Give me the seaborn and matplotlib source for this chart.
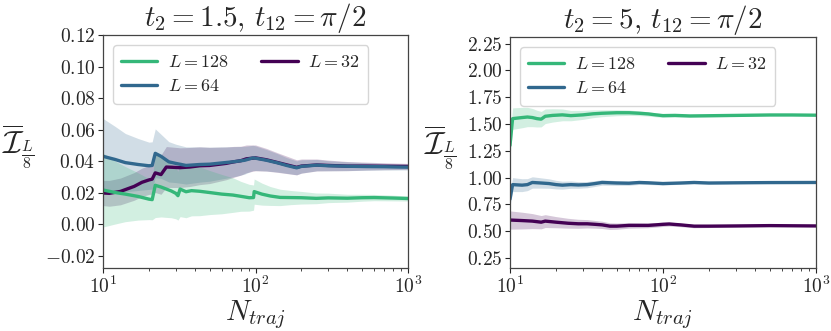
import numpy as np
import matplotlib
matplotlib.use('Agg')
import matplotlib.pyplot as plt
import seaborn as sns
from matplotlib.ticker import FuncFormatter, LogLocator, MultipleLocator

# --- left panel: t2 = 1.5 ---
n_l128 = [10, 12, 14, 17, 20, 21, 22, 24, 26, 28, 30, 31, 32, 35, 38, 43, 50, 60, 71, 80,
          91, 97, 98, 110, 125, 145, 170, 200, 250, 300, 400, 500, 600, 800, 1000]
m_l128 = [0.0216, 0.0200, 0.0190, 0.0175, 0.0158, 0.0155, 0.0246, 0.0235, 0.0222, 0.0210,
          0.0195, 0.0180, 0.0222, 0.0205, 0.0212, 0.0208, 0.0200, 0.0190, 0.0184, 0.0176,
          0.0167, 0.0168, 0.0206, 0.0190, 0.0178, 0.0169, 0.0168, 0.0167, 0.0163, 0.0166,
          0.0164, 0.0167, 0.0168, 0.0165, 0.0162]
e_l128 = [0.0235, 0.0200, 0.0175, 0.0150, 0.0130, 0.0128, 0.0205, 0.0190, 0.0180, 0.0170,
          0.0162, 0.0155, 0.0175, 0.0165, 0.0160, 0.0155, 0.0140, 0.0125, 0.0110, 0.0095,
          0.0085, 0.0080, 0.0080, 0.0070, 0.0060, 0.0052, 0.0045, 0.0040, 0.0034, 0.0030,
          0.0025, 0.0022, 0.0020, 0.0018, 0.0016]

n_l64 = [10, 12, 14, 17, 20, 21, 22, 24, 27, 30, 35, 43, 50, 60, 71, 85, 96, 100, 118,
         140, 160, 186, 200, 252, 300, 400, 535, 700, 850, 1000]
m_l64 = [0.0430, 0.0410, 0.0390, 0.0378, 0.0370, 0.0372, 0.0449, 0.0430, 0.0395, 0.0385,
         0.0372, 0.0378, 0.0380, 0.0388, 0.0395, 0.0405, 0.0420, 0.0418, 0.0405, 0.0388,
         0.0372, 0.0357, 0.0366, 0.0374, 0.0370, 0.0367, 0.0365, 0.0364, 0.0362, 0.0361]
e_l64 = [0.0240, 0.0210, 0.0185, 0.0165, 0.0150, 0.0150, 0.0155, 0.0140, 0.0128, 0.0122,
         0.0118, 0.0112, 0.0108, 0.0102, 0.0096, 0.0088, 0.0080, 0.0078, 0.0068, 0.0058,
         0.0050, 0.0044, 0.0042, 0.0036, 0.0032, 0.0028, 0.0024, 0.0021, 0.0019, 0.0018]

n_l32 = [10, 11, 13, 16, 18, 20, 21, 22, 24, 26, 29, 32, 37, 43, 50, 56, 64, 72, 80,
         87, 95, 100, 118, 140, 186, 200, 252, 300, 400, 535, 700, 1000]
m_l32 = [0.0197, 0.0195, 0.0207, 0.0239, 0.0265, 0.0280, 0.0285, 0.0325, 0.0314, 0.0362,
         0.0360, 0.0358, 0.0362, 0.0370, 0.0372, 0.0378, 0.0385, 0.0395, 0.0402, 0.0414,
         0.0418, 0.0420, 0.0408, 0.0390, 0.0360, 0.0368, 0.0375, 0.0372, 0.0368, 0.0368,
         0.0367, 0.0366]
e_l32 = [0.0080, 0.0082, 0.0085, 0.0088, 0.0090, 0.0092, 0.0095, 0.0125, 0.0125, 0.0130,
         0.0128, 0.0126, 0.0124, 0.0120, 0.0115, 0.0110, 0.0104, 0.0098, 0.0092, 0.0088,
         0.0084, 0.0082, 0.0072, 0.0062, 0.0048, 0.0045, 0.0038, 0.0034, 0.0029, 0.0025,
         0.0022, 0.0019]

# --- right panel: t2 = 5 ---
n_r128 = [10, 10.4, 12, 13, 14, 15, 16, 17, 19, 22, 25, 30, 35, 40, 50, 60, 70, 80, 90,
          100, 120, 150, 200, 300, 500, 700, 1000]
m_r128 = [1.30, 1.550, 1.560, 1.565, 1.560, 1.550, 1.545, 1.572, 1.580, 1.585, 1.578,
          1.585, 1.595, 1.600, 1.605, 1.605, 1.600, 1.594, 1.585, 1.578, 1.580, 1.575,
          1.577, 1.580, 1.584, 1.584, 1.582]
e_r128 = [0.100, 0.100, 0.095, 0.090, 0.085, 0.078, 0.072, 0.068, 0.062, 0.055, 0.048,
          0.042, 0.036, 0.032, 0.028, 0.025, 0.022, 0.020, 0.018, 0.017, 0.015, 0.013,
          0.011, 0.009, 0.007, 0.006, 0.005]

n_r64 = [10, 10.4, 12, 13, 14, 16, 18, 20, 22, 25, 28, 32, 36, 40, 50, 60, 70, 80, 100,
         130, 160, 200, 300, 500, 1000]
m_r64 = [0.80, 0.935, 0.930, 0.935, 0.955, 0.950, 0.945, 0.935, 0.930, 0.935, 0.932,
         0.935, 0.945, 0.955, 0.950, 0.948, 0.955, 0.952, 0.945, 0.950, 0.955, 0.950,
         0.952, 0.954, 0.955]
e_r64 = [0.065, 0.065, 0.060, 0.056, 0.053, 0.048, 0.044, 0.040, 0.037, 0.034, 0.031,
         0.029, 0.027, 0.025, 0.022, 0.020, 0.018, 0.016, 0.014, 0.012, 0.011, 0.010,
         0.008, 0.006, 0.005]

n_r32 = [10, 12, 14, 16, 17, 20, 24, 28, 32, 36, 40, 45, 50, 60, 70, 80, 90, 100, 110,
         130, 160, 200, 300, 500, 1000]
m_r32 = [0.605, 0.600, 0.595, 0.585, 0.595, 0.585, 0.575, 0.570, 0.570, 0.565, 0.560,
         0.548, 0.548, 0.555, 0.555, 0.555, 0.560, 0.565, 0.568, 0.560, 0.548, 0.548,
         0.550, 0.553, 0.550]
e_r32 = [0.085, 0.078, 0.070, 0.062, 0.060, 0.052, 0.046, 0.042, 0.039, 0.036, 0.034,
         0.031, 0.029, 0.026, 0.024, 0.022, 0.021, 0.020, 0.019, 0.017, 0.015, 0.013,
         0.010, 0.008, 0.006]

c128, c64, c32 = '#35b779', '#31688e', '#440154'

sns.set_style('ticks')
plt.rcParams['font.family'] = ['DejaVu Serif']
plt.rcParams['mathtext.fontset'] = 'cm'

fig = plt.figure(figsize=(8.31, 3.31), dpi=100)
ax1 = fig.add_axes([0.124, 0.190, 0.367, 0.704])
ax2 = fig.add_axes([0.6137, 0.190, 0.368, 0.698])

# drawn back to front: L=32, L=64, L=128; legend keeps 128, 64, 32
panels = [
    (ax1, [(n_l32, m_l32, e_l32, c32, '$L = 32$'),
           (n_l64, m_l64, e_l64, c64, '$L = 64$'),
           (n_l128, m_l128, e_l128, c128, '$L = 128$')],
     r'$t_2 = 1.5,\, t_{12} = \pi/2$', (-0.028, 0.12), -0.28, 0.02),
    (ax2, [(n_r32, m_r32, e_r32, c32, '$L = 32$'),
           (n_r64, m_r64, e_r64, c64, '$L = 64$'),
           (n_r128, m_r128, e_r128, c128, '$L = 128$')],
     r'$t_2 = 5,\, t_{12} = \pi/2$', (0.157, 2.31), -0.23, 0.25),
]

for ax, series, title, ylim, ylab_x, ystep in panels:
    for n, m, e, col, lab in series:
        m = np.array(m)
        e = np.array(e)
        ax.fill_between(n, m - e, m + e, color=col, alpha=0.22, lw=0)
        sns.lineplot(x=n, y=m, ax=ax, color=col, lw=2.4, label=lab)
    ax.set_xscale('log')
    ax.set_xlim(10, 1000)
    ax.set_ylim(*ylim)
    ax.yaxis.set_major_locator(MultipleLocator(ystep))
    ax.yaxis.set_major_formatter(FuncFormatter(lambda v, p: '$%.2f$' % v))
    ax.xaxis.set_major_locator(LogLocator(base=10, numticks=5))
    ax.xaxis.set_major_formatter(FuncFormatter(lambda v, p: '$10^{%d}$' % round(np.log10(v))))
    ax.tick_params(axis='both', which='major', labelsize=14, length=3.5, width=0.8,
                   direction='out', pad=2)
    ax.tick_params(axis='x', which='minor', length=2, width=0.6, direction='out')
    for s in ax.spines.values():
        s.set_color('#444444')
        s.set_linewidth(0.9)
    ax.set_title(title, fontsize=21, pad=4)
    ax.set_xlabel('$N_{traj}$', fontsize=21, labelpad=1)
    ax.set_ylabel(r'$\overline{\mathcal{I}}_{\frac{L}{8}}$', fontsize=23, rotation=0,
                  ha='center', va='center')
    ax.yaxis.set_label_coords(ylab_x, 0.52)
    handles, labels = ax.get_legend_handles_labels()
    ax.legend(handles[::-1], labels[::-1], loc='upper left', ncol=2, fontsize=13,
              handlelength=2.0, handletextpad=0.6, columnspacing=1.8,
              labelspacing=0.35, borderpad=0.45, frameon=True, borderaxespad=0.55)

fig.savefig('out.png', dpi=100)
